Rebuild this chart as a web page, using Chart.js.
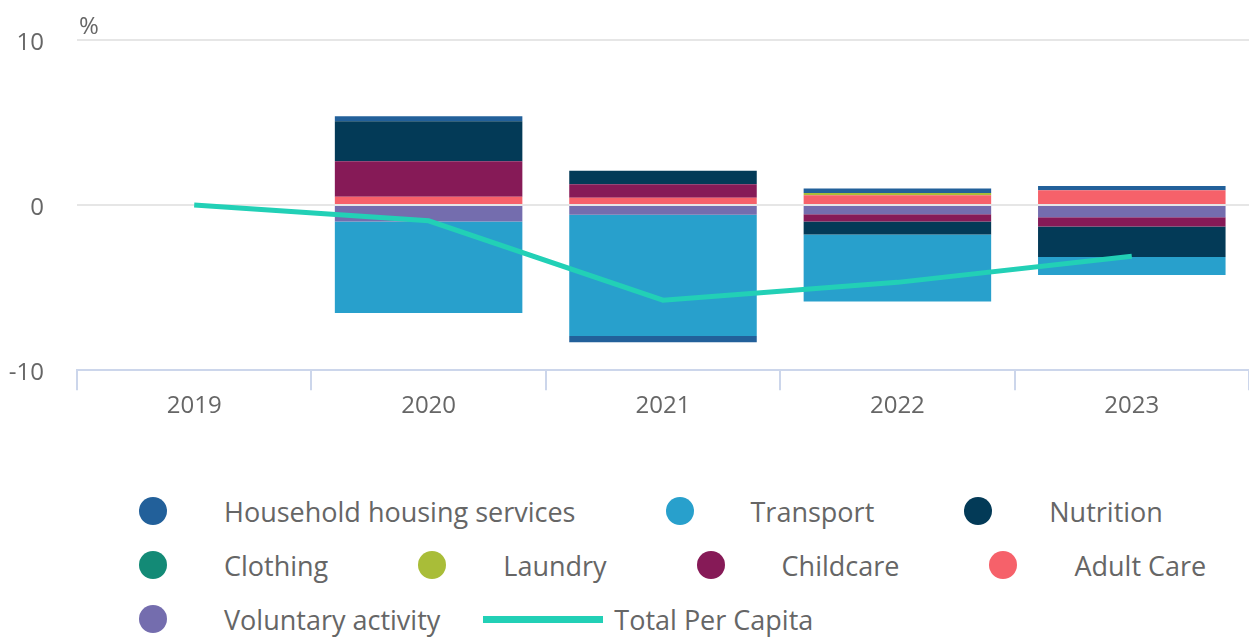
<!DOCTYPE html>
<html>
<head>
<meta charset="utf-8">
<script src="https://cdn.jsdelivr.net/npm/chart.js@4.4.1/dist/chart.umd.min.js"></script>
<style>
  body { margin: 0; background: #fff; font-family: "Open Sans", sans-serif; }
  #wrap { position: relative; width: 1249px; height: 637px; }
  #box { position: absolute; left: 0; top: 0; width: 1249px; height: 423px; }
  #legend { position: absolute; left: 139px; top: 496px; width: 1108px; display: flex; flex-wrap: wrap; row-gap: 24px; column-gap: 90px; }
  .item { display: flex; align-items: center; height: 30px; font-size: 27px; color: #666; white-space: nowrap; }
  .dot { width: 28px; height: 28px; border-radius: 50%; margin-right: 57px; }
  .line { width: 120px; height: 7px; margin-right: 11px; }
</style>
</head>
<body>
<div id="wrap">
  <div id="box"><canvas id="grafico"></canvas></div>
  <div id="legend"></div>
</div>
<script>
// datos (%)
const years = ['2019', '2020', '2021', '2022', '2023']
const household = [0, 0.3, -0.38, 0.26, 0.26]
const transport = [0, -5.53, -7.35, -4.06, -1.09]
const nutrition = [0, 2.42, 0.82, -0.79, -1.86]
const clothing = [0, 0, 0, 0, 0]
const laundry = [0, 0, 0, 0.14, 0]
const childcare = [0, 2.16, 0.81, -0.44, -0.56]
const adultCare = [0, 0.5, 0.45, 0.6, 0.9]
const voluntary = [0, -1.0, -0.58, -0.55, -0.73]
const totalPerCapita = [0, -0.95, -5.76, -4.68, -3.1]
const yTicks = [-10, 0, 10]

// series en el orden de la leyenda
const series = [
    { label: 'Household housing services', data: household, color: '#22609a' },
    { label: 'Transport', data: transport, color: '#28a0cc' },
    { label: 'Nutrition', data: nutrition, color: '#033a57' },
    { label: 'Clothing', data: clothing, color: '#138a76' },
    { label: 'Laundry', data: laundry, color: '#a9bd38' },
    { label: 'Childcare', data: childcare, color: '#861a57' },
    { label: 'Adult Care', data: adultCare, color: '#f6616a' },
    { label: 'Voluntary activity', data: voluntary, color: '#746dae' }
]
const lineColor = '#22d0b6'

// las barras se apilan en orden inverso (la primera serie queda arriba)
const barSets = series.slice().reverse().map(function (s) {
    return {
        type: 'bar',
        label: s.label,
        data: s.data,
        backgroundColor: s.color,
        borderWidth: 0,
        stack: 'bars',
        order: 1,
        barPercentage: 0.8,
        categoryPercentage: 1
    }
})

const lineSet = {
    type: 'line',
    label: 'Total Per Capita',
    data: totalPerCapita,
    borderColor: lineColor,
    backgroundColor: lineColor,
    borderWidth: 5,
    pointRadius: 0,
    tension: 0,
    stack: 'line',
    order: 0
}

// titulo "%" arriba del eje y
const percentTitle = {
    id: 'percentTitle',
    afterDraw(chart) {
        const c = chart.ctx
        c.save()
        c.font = '24px "Open Sans"'
        c.fillStyle = '#666'
        c.textBaseline = 'bottom'
        c.fillText('%', chart.chartArea.left + 2, chart.chartArea.top - 1)
        c.restore()
    }
}

const canvas = document.querySelector('canvas')
const ctx = canvas.getContext('2d')

let chart = new Chart(ctx, {
    data: {
        labels: years,
        datasets: barSets.concat([lineSet])
    },
    options: {
        responsive: true,
        maintainAspectRatio: false,
        animation: false,
        layout: { padding: { top: 40, right: 0, bottom: 0, left: 0 } },
        plugins: {
            legend: { display: false },
            tooltip: { enabled: false }
        },
        scales: {
            x: {
                stacked: true,
                offset: true,
                grid: { offset: true, drawOnChartArea: false, drawTicks: true, tickLength: 20, color: '#ccd6eb', lineWidth: 2 },
                border: { color: '#ccd6eb', width: 2 },
                ticks: { color: '#666', font: { family: 'Open Sans', size: 24 }, padding: 2 }
            },
            y: {
                stacked: true,
                min: -10,
                max: 10,
                // ancho fijo del eje y sin el relleno extra arriba/abajo
                afterFit(scale) {
                    scale.width = 77
                    scale.paddingTop = 0
                    scale.paddingBottom = 0
                },
                afterBuildTicks(scale) { scale.ticks = yTicks.map(v => ({ value: v })) },
                grid: { drawTicks: false, color: '#e6e6e6', lineWidth: 2 },
                border: { display: false },
                ticks: { color: '#666', font: { family: 'Open Sans', size: 24 }, padding: 33, labelOffset: 3 }
            }
        }
    },
    plugins: [percentTitle]
})

// leyenda en html
const legend = document.getElementById('legend')
series.forEach(function (s) {
    legend.insertAdjacentHTML('beforeend',
        '<div class="item"><span class="dot" style="background:' + s.color + '"></span>' + s.label + '</div>')
})
legend.insertAdjacentHTML('beforeend',
    '<div class="item" style="margin-left:-47px"><span class="line" style="background:' + lineColor + '"></span>Total Per Capita</div>')
</script>
</body>
</html>
